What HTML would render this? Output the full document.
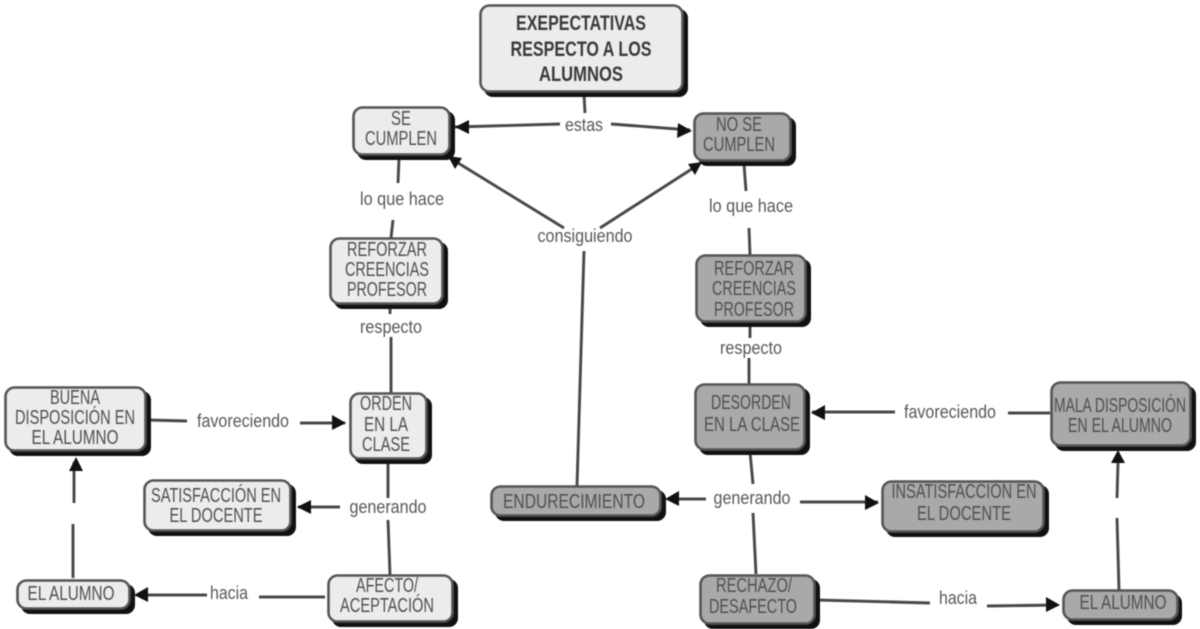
<!DOCTYPE html>
<html><head><meta charset="utf-8"><style>
html,body{margin:0;padding:0;background:#fff;width:1200px;height:629px;overflow:hidden}
svg{display:block;filter:blur(.45px)}
text{font-family:"Liberation Sans",sans-serif;fill:#505050;font-size:20px;text-anchor:middle}
.l{fill:#585858;font-size:18px}
.b{font-weight:bold;fill:#3a3a3a;font-size:21px}
.c{fill:none;stroke:#484848;stroke-width:2.9}
.ar{fill:#111}
.s{fill:#111}
.lt{fill:#ececec;stroke:#555;stroke-width:2.6}
.dk{fill:#a9a9a9;stroke:#555;stroke-width:2.6}
</style></head><body>
<svg width="1200" height="629" viewBox="0 0 1200 629" xmlns="http://www.w3.org/2000/svg">
<!-- connectors -->
<path class="c" d="M584 94L585 113M560 124L455 127M611 124L690 130"/>
<path class="c" d="M399 158L398 183M393 220L391 238M390 306V314M391 337V393"/>
<path class="c" d="M744 164L746 191M749 228L750 255M750 323V338M749 358V384"/>
<path class="c" d="M564 228L450 158M600 228L698 165M584 251L577 486"/>
<path class="c" d="M148 420L187 421M300 423L345 423"/>
<path class="c" d="M388 461V498M340 507H298M388 520L390 575"/>
<path class="c" d="M73 578V524M74 503V462"/>
<path class="c" d="M325 597L259 597M207 595H136"/>
<path class="c" d="M750 452L753 484M706 499H668M753 513L756 574M800 502H878"/>
<path class="c" d="M1050 413H1008M895 412H812"/>
<path class="c" d="M817 600L930 603M987 606L1058 605"/>
<path class="c" d="M1119 590L1117 518M1117 498L1118 462"/>
<!-- arrowheads -->
<path class="ar" d="M455 127l14-7v14zM692 131l-14-8-1 15zM448 156l14 2-7 11zM702 162l-14 2 7 11z"/>
<path class="ar" d="M346 423l-14-8v15zM297 507l14-7v14zM76 457l-7 14h14zM134 595l14-8v15z"/>
<path class="ar" d="M665 499l14-8v15zM879 503l-14-8v15zM811 413l14-8v15zM1060 605l-14-8v15zM1118 450l-7 13h14z"/>
<!-- nodes -->
<rect class="s" x="484" y="9" width="204" height="88" rx="9"/><rect class="lt" x="480.500" y="5.500" width="202" height="86" rx="9"/>
<rect class="s" x="357" y="111" width="98" height="49" rx="9"/><rect class="lt" x="353.500" y="107.500" width="96" height="47" rx="9"/>
<rect class="s" x="698" y="117" width="98" height="49" rx="9"/><rect class="dk" x="694.500" y="113.500" width="96" height="47" rx="9"/>
<rect class="s" x="334" y="242" width="114" height="67" rx="9"/><rect class="lt" x="330.500" y="238.500" width="112" height="65" rx="9"/>
<rect class="s" x="700" y="259" width="111" height="68" rx="9"/><rect class="dk" x="696.500" y="255.500" width="109" height="66" rx="9"/>
<rect class="s" x="354" y="397" width="78" height="67" rx="9"/><rect class="lt" x="350.500" y="393.500" width="76" height="65" rx="9"/>
<rect class="s" x="9" y="391" width="142" height="65" rx="9"/><rect class="lt" x="5.500" y="387.500" width="140" height="63" rx="9"/>
<rect class="s" x="148" y="484" width="148" height="52" rx="9"/><rect class="lt" x="144.500" y="480.500" width="146" height="50" rx="9"/>
<rect class="s" x="21" y="584" width="114" height="30" rx="9"/><rect class="lt" x="17.500" y="580.500" width="112" height="28" rx="9"/>
<rect class="s" x="332" y="579" width="126" height="48" rx="9"/><rect class="lt" x="328.500" y="575.500" width="124" height="46" rx="9"/>
<rect class="s" x="699" y="388" width="111" height="67" rx="9"/><rect class="dk" x="695.500" y="384.500" width="109" height="65" rx="9"/>
<rect class="s" x="1055" y="386" width="141" height="65" rx="9"/><rect class="dk" x="1051.500" y="382.500" width="139" height="63" rx="9"/>
<rect class="s" x="495" y="490" width="171" height="31" rx="9"/><rect class="dk" x="491.500" y="486.500" width="169" height="29" rx="9"/>
<rect class="s" x="886" y="485" width="163" height="52" rx="9"/><rect class="dk" x="882.500" y="481.500" width="161" height="50" rx="9"/>
<rect class="s" x="704" y="579" width="116" height="50" rx="9"/><rect class="dk" x="700.500" y="575.500" width="114" height="48" rx="9"/>
<rect class="s" x="1067" y="594" width="115" height="31" rx="9"/><rect class="dk" x="1063.500" y="590.500" width="114" height="29" rx="9"/>
<!-- node text -->
<text class="b" x="581" y="30" textLength="130" lengthAdjust="spacingAndGlyphs">EXEPECTATIVAS</text>
<text class="b" x="581" y="56" textLength="141" lengthAdjust="spacingAndGlyphs">RESPECTO A LOS</text>
<text class="b" x="581" y="81" textLength="84" lengthAdjust="spacingAndGlyphs">ALUMNOS</text>
<text x="401" y="125" textLength="20" lengthAdjust="spacingAndGlyphs">SE</text>
<text x="401" y="145" textLength="72" lengthAdjust="spacingAndGlyphs">CUMPLEN</text>
<text x="739" y="131" textLength="46" lengthAdjust="spacingAndGlyphs">NO SE</text>
<text x="739" y="151" textLength="72" lengthAdjust="spacingAndGlyphs">CUMPLEN</text>
<text x="387" y="256" textLength="80" lengthAdjust="spacingAndGlyphs">REFORZAR</text>
<text x="387" y="276" textLength="84" lengthAdjust="spacingAndGlyphs">CREENCIAS</text>
<text x="387" y="296" textLength="80" lengthAdjust="spacingAndGlyphs">PROFESOR</text>
<text x="754" y="275" textLength="80" lengthAdjust="spacingAndGlyphs">REFORZAR</text>
<text x="754" y="295" textLength="84" lengthAdjust="spacingAndGlyphs">CREENCIAS</text>
<text x="754" y="316" textLength="80" lengthAdjust="spacingAndGlyphs">PROFESOR</text>
<text x="386" y="410" textLength="52" lengthAdjust="spacingAndGlyphs">ORDEN</text>
<text x="386" y="431" textLength="44" lengthAdjust="spacingAndGlyphs">EN LA</text>
<text x="386" y="451" textLength="48" lengthAdjust="spacingAndGlyphs">CLASE</text>
<text x="75" y="404" textLength="50" lengthAdjust="spacingAndGlyphs">BUENA</text>
<text x="75" y="424" textLength="120" lengthAdjust="spacingAndGlyphs">DISPOSICIÓN EN</text>
<text x="75" y="444" textLength="87" lengthAdjust="spacingAndGlyphs">EL ALUMNO</text>
<text x="216" y="502" textLength="130" lengthAdjust="spacingAndGlyphs">SATISFACCIÓN EN</text>
<text x="216" y="522" textLength="93" lengthAdjust="spacingAndGlyphs">EL DOCENTE</text>
<text x="71" y="600" textLength="87" lengthAdjust="spacingAndGlyphs">EL ALUMNO</text>
<text x="387" y="592" textLength="62" lengthAdjust="spacingAndGlyphs">AFECTO/</text>
<text x="387" y="612" textLength="94" lengthAdjust="spacingAndGlyphs">ACEPTACIÓN</text>
<text x="751" y="409" textLength="80" lengthAdjust="spacingAndGlyphs">DESORDEN</text>
<text x="752" y="431" textLength="96" lengthAdjust="spacingAndGlyphs">EN LA CLASE</text>
<text x="1120" y="412" textLength="132" lengthAdjust="spacingAndGlyphs">MALA DISPOSICIÓN</text>
<text x="1120" y="432" textLength="104" lengthAdjust="spacingAndGlyphs">EN EL ALUMNO</text>
<text x="574" y="508" textLength="142" lengthAdjust="spacingAndGlyphs">ENDURECIMIENTO</text>
<text x="964" y="498" textLength="145" lengthAdjust="spacingAndGlyphs">INSATISFACCIÓN EN</text>
<text x="964" y="520" textLength="94" lengthAdjust="spacingAndGlyphs">EL DOCENTE</text>
<text x="754" y="592" textLength="76" lengthAdjust="spacingAndGlyphs">RECHAZO/</text>
<text x="753" y="613" textLength="88" lengthAdjust="spacingAndGlyphs">DESAFECTO</text>
<text x="1123" y="609" textLength="87" lengthAdjust="spacingAndGlyphs">EL ALUMNO</text>
<!-- connector labels -->
<text class="l" x="584" y="131" textLength="38" lengthAdjust="spacingAndGlyphs">estas</text>
<text class="l" x="402" y="205" textLength="84" lengthAdjust="spacingAndGlyphs">lo que hace</text>
<text class="l" x="751" y="212" textLength="84" lengthAdjust="spacingAndGlyphs">lo que hace</text>
<text class="l" x="585" y="242" textLength="95" lengthAdjust="spacingAndGlyphs">consiguiendo</text>
<text class="l" x="391" y="333" textLength="62" lengthAdjust="spacingAndGlyphs">respecto</text>
<text class="l" x="751" y="354" textLength="62" lengthAdjust="spacingAndGlyphs">respecto</text>
<text class="l" x="243" y="427" textLength="92" lengthAdjust="spacingAndGlyphs">favoreciendo</text>
<text class="l" x="950" y="418" textLength="92" lengthAdjust="spacingAndGlyphs">favoreciendo</text>
<text class="l" x="388" y="513" textLength="77" lengthAdjust="spacingAndGlyphs">generando</text>
<text class="l" x="752" y="504" textLength="77" lengthAdjust="spacingAndGlyphs">generando</text>
<text class="l" x="229" y="599" textLength="38" lengthAdjust="spacingAndGlyphs">hacia</text>
<text class="l" x="958" y="604" textLength="38" lengthAdjust="spacingAndGlyphs">hacia</text>
</svg>
</body></html>
